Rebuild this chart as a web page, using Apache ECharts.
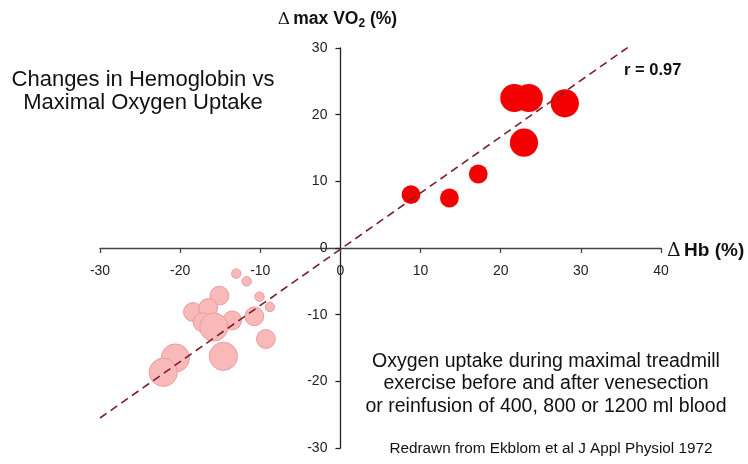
<!DOCTYPE html>
<html>
<head>
<meta charset="utf-8">
<script src="https://cdn.jsdelivr.net/npm/echarts@6/dist/echarts.min.js"></script>
<style>
  html, body { margin: 0; padding: 0; background: #fff; }
  #chart { width: 748px; height: 464px; }
</style>
</head>
<body>
<div id="chart"></div>
<script>
// Reinfusion (increase in Hb) - red
const reinfX = [21.7, 23.5, 28.0, 22.9, 17.2, 8.8, 13.6];
const reinfY = [22.5, 22.5, 21.7, 15.8, 11.1, 8.0, 7.5];
const reinfVol = [1200, 1200, 1200, 1200, 800, 800, 800];

// Venesection (decrease in Hb) - pink
const veneX = [-13.0, -11.7, -10.1, -8.8, -15.1, -18.4, -16.5, -10.75, -13.5, -17.2, -9.3, -15.8, -14.6, -20.6, -22.1];
const veneY = [-3.85, -5.0, -7.3, -8.85, -7.15, -9.6, -9.0, -10.25, -10.85, -11.15, -13.65, -11.85, -16.25, -16.5, -18.65];
const veneVol = [400, 400, 400, 400, 800, 800, 800, 800, 800, 800, 800, 1200, 1200, 1200, 1200];

// regression line end points
const fitX = [-30, 36];
const fitY = [-25.5, 30.2];

const xTicks = { min: -30, max: 40, step: 10 };
const yTicks = { min: -30, max: 30, step: 10 };

const FONT = '"Liberation Sans", Arial, sans-serif';

const toPoints = (xs, ys, vs) => xs.map((x, i) => [x, ys[i], vs[i]]);
const sizeOf = v => v[2] * 0.0235;

// grid box in pixels, axes are moved to cross at (0, 0)
const G = { left: 100, right: 87, top: 48, bottom: 16 };
const gw = 748 - G.left - G.right;
const gh = 464 - G.top - G.bottom;
const xAxisOffset = -gh * (0 - yTicks.min) / (yTicks.max - yTicks.min);
const yAxisOffset = -gw * (0 - xTicks.min) / (xTicks.max - xTicks.min);

const chart = echarts.init(document.getElementById('chart'));

const option = {
    backgroundColor: '#fff',
    animation: false,
    grid: Object.assign({ outerBoundsMode: 'none', containLabel: false }, G),
    xAxis: {
        type: 'value',
        position: 'bottom',
        offset: xAxisOffset,
        min: xTicks.min, max: xTicks.max, interval: xTicks.step,
        axisLine: { onZero: false, lineStyle: { color: '#444', width: 1.3 } },
        axisTick: { length: 5, lineStyle: { color: '#444', width: 1.3 } },
        axisLabel: { margin: 16, fontSize: 14, color: '#222', fontFamily: FONT },
        splitLine: { show: false },
        name: '{d|Δ} {b|Hb (%)}',
        nameLocation: 'end',
        nameGap: 6,
        nameTextStyle: {
            padding: [6, 0, 0, 0],
            rich: {
                d: { fontSize: 19, color: '#111', fontFamily: 'DejaVu Serif, serif' },
                b: { fontSize: 19, fontWeight: 'bold', color: '#111', fontFamily: FONT }
            }
        }
    },
    yAxis: {
        type: 'value',
        position: 'left',
        offset: yAxisOffset,
        min: yTicks.min, max: yTicks.max, interval: yTicks.step,
        axisLine: { onZero: false, lineStyle: { color: '#222', width: 1.3 } },
        axisTick: { length: 5, lineStyle: { color: '#222', width: 1.3 } },
        axisLabel: { margin: 13, fontSize: 14, color: '#222', fontFamily: FONT },
        splitLine: { show: false },
        name: '{d|Δ} {b|max VO}{s|2}{b| (%)}',
        nameLocation: 'end',
        nameGap: 18,
        nameTextStyle: {
            align: 'center',
            padding: [0, 6, 0, 0],
            rich: {
                d: { fontSize: 17, color: '#111', fontFamily: 'DejaVu Serif, serif' },
                b: { fontSize: 17.5, fontWeight: 'bold', color: '#111', fontFamily: FONT },
                s: { fontSize: 12, fontWeight: 'bold', color: '#111', fontFamily: FONT, padding: [9, 0, 0, 0] }
            }
        }
    },
    series: [
        {
            name: 'Venesection',
            type: 'scatter',
            data: toPoints(veneX, veneY, veneVol),
            symbolSize: sizeOf,
            itemStyle: { color: '#f9b9b9', borderColor: '#eb9c9c', borderWidth: 1, opacity: 1 },
            z: 2
        },
        {
            name: 'Reinfusion',
            type: 'scatter',
            data: toPoints(reinfX, reinfY, reinfVol),
            symbolSize: sizeOf,
            itemStyle: { color: '#f50000', opacity: 1 },
            z: 2
        },
        {
            name: 'Fit',
            type: 'line',
            data: fitX.map((x, i) => [x, fitY[i]]),
            symbol: 'none',
            lineStyle: { color: '#7a1f2b', width: 1.6, type: [8, 5] },
            z: 3
        }
    ],
    graphic: [
        {
            type: 'text', x: 143, y: 69,
            style: {
                text: 'Changes in Hemoglobin vs\nMaximal Oxygen Uptake',
                font: '22px ' + FONT, fill: '#111', align: 'center', verticalAlign: 'top', lineHeight: 22.5
            }
        },
        {
            type: 'text', x: 624, y: 62,
            style: { text: 'r = 0.97', font: 'bold 16.5px ' + FONT, fill: '#111', verticalAlign: 'top' }
        },
        {
            type: 'text', x: 546, y: 350,
            style: {
                text: 'Oxygen uptake during maximal treadmill\nexercise before and after venesection\nor reinfusion of 400, 800 or 1200 ml blood',
                font: '19.5px ' + FONT, fill: '#111', align: 'center', verticalAlign: 'top', lineHeight: 22.7
            }
        },
        {
            type: 'text', x: 551, y: 441,
            style: {
                text: 'Redrawn from Ekblom et al J Appl Physiol 1972',
                font: '15.3px ' + FONT, fill: '#111', align: 'center', verticalAlign: 'top'
            }
        }
    ]
};

chart.setOption(option);
window.addEventListener('resize', () => chart.resize());
</script>
</body>
</html>
